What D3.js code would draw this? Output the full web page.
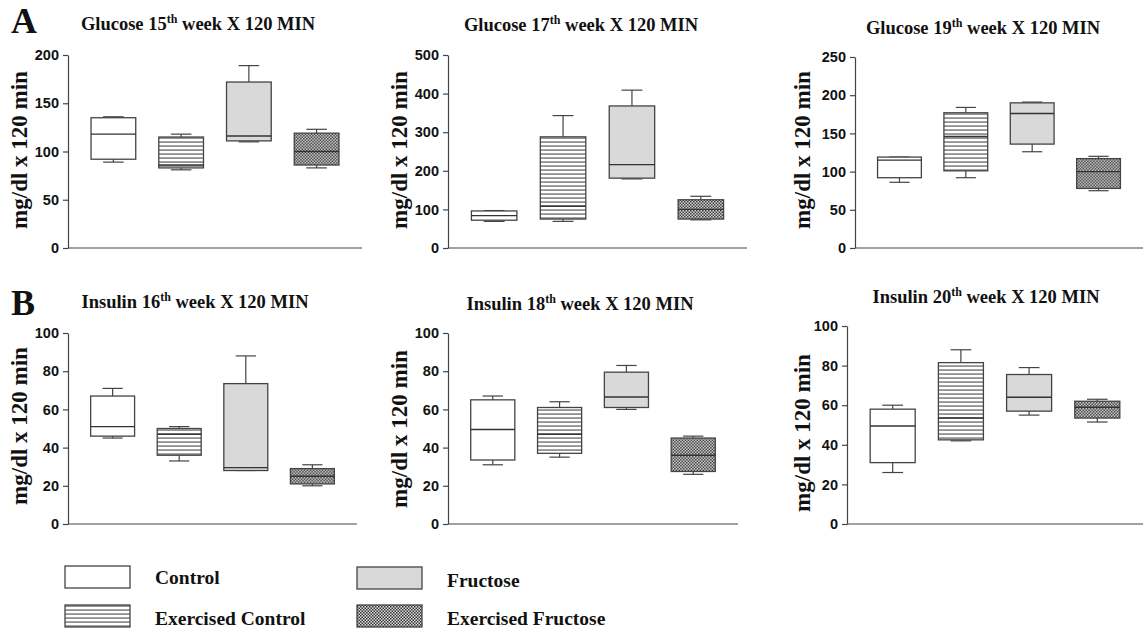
<!DOCTYPE html>
<html>
<head>
<meta charset="utf-8">
<script src="https://cdn.jsdelivr.net/npm/d3@7"></script>
<style>
    body { margin: 0; background: #fff; }
    svg { display: block; }
    .serif { font-family: 'Liberation Serif', 'Times New Roman', serif; font-weight: bold; fill: #111; }
</style>
</head>
<body>
<svg id="chart" width="1147" height="632"></svg>
<script>
// groups, same order in every panel
const groups = ['Control', 'Exercised Control', 'Fructose', 'Exercised Fructose']

// every box: [min, q1, median, q3, max]
const glucose15 = [[89, 92, 118, 135, 136], [81, 83, 86, 115, 118], [110, 111, 116, 172, 189], [83, 86, 100, 119, 123]]
const glucose17 = [[69, 72, 84, 96, 97], [69, 75, 108, 288, 343], [179, 181, 216, 368, 409], [73, 75, 100, 125, 134]]
const glucose19 = [[86, 92, 115, 119, 119], [92, 101, 146, 177, 184], [126, 136, 176, 190, 191], [75, 78, 100, 117, 120]]
const insulin16 = [[45, 46, 51, 67, 71], [33, 36, 47, 50, 51], [28, 28, 29.5, 73.5, 88], [20, 21, 25, 29, 31]]
const insulin18 = [[31, 33.5, 49.5, 65, 67], [35, 37, 47, 61, 64], [60, 61, 66.5, 79.5, 83], [26, 27.5, 36, 45, 46]]
const insulin20 = [[26, 31, 49.5, 58, 60], [42, 42.5, 53.5, 81.5, 88], [55, 57, 64, 75.5, 79], [51.5, 53.5, 59, 62, 63]]

// tick labels of the y axes
const ticksGlucose15 = [0, 50, 100, 150, 200]
const ticksGlucose17 = [0, 100, 200, 300, 400, 500]
const ticksGlucose19 = [0, 50, 100, 150, 200, 250]
const ticksInsulin = [0, 20, 40, 60, 80, 100]

const titles = ['Glucose 15', 'Glucose 17', 'Glucose 19', 'Insulin 16', 'Insulin 18', 'Insulin 20']

// where the panels sit on the page
const panels = [
    { data: glucose15, ticks: ticksGlucose15, title: titles[0], x0: 68, x1: 362, y0: 248, y1: 55, tx: 198, ty: 30, lx: 27, ly: 150 },
    { data: glucose17, ticks: ticksGlucose17, title: titles[1], x0: 448, x1: 747, y0: 248, y1: 55, tx: 581, ty: 31, lx: 407, ly: 150 },
    { data: glucose19, ticks: ticksGlucose19, title: titles[2], x0: 855, x1: 1143, y0: 248, y1: 57, tx: 983, ty: 34, lx: 810, ly: 150 },
    { data: insulin16, ticks: ticksInsulin, title: titles[3], x0: 68, x1: 357, y0: 524, y1: 333, tx: 195, ty: 308, lx: 27, ly: 426 },
    { data: insulin18, ticks: ticksInsulin, title: titles[4], x0: 448, x1: 738, y0: 524, y1: 333, tx: 580, ty: 310, lx: 407, ly: 429 },
    { data: insulin20, ticks: ticksInsulin, title: titles[5], x0: 847, x1: 1143, y0: 524, y1: 326, tx: 986, ty: 303, lx: 810, ly: 433 },
]

const stroke = '#444'
const svg = d3.select('#chart')
const defs = svg.append('defs')

// 横线填充
const lines = defs.append('pattern')
    .attr('id', 'lines')
    .attr('patternUnits', 'userSpaceOnUse')
    .attr('width', 8)
    .attr('height', 4)
lines.append('rect').attr('width', 8).attr('height', 4).attr('fill', '#fff')
lines.append('rect').attr('y', 1.5).attr('width', 8).attr('height', 1.1).attr('fill', '#4a4a4a')

// 网格点填充
const checks = defs.append('pattern')
    .attr('id', 'checks')
    .attr('patternUnits', 'userSpaceOnUse')
    .attr('width', 3)
    .attr('height', 3)
checks.append('rect').attr('width', 3).attr('height', 3).attr('fill', '#ddd')
checks.append('rect').attr('width', 1.5).attr('height', 1.5).attr('fill', '#333')
checks.append('rect').attr('x', 1.5).attr('y', 1.5).attr('width', 1.5).attr('height', 1.5).attr('fill', '#333')

const fills = ['#fff', 'url(#lines)', '#d9d9d9', 'url(#checks)']

panels.forEach((p) => {
    const y = d3.scaleLinear()
        .domain([0, d3.max(p.ticks)])
        .range([p.y0, p.y1])
    const x = d3.scaleBand()
        .domain(groups)
        .range([p.x0, p.x1])
        .padding(0.34)

    const g = svg.append('g')

    // y 轴
    const axis = g.append('g')
        .attr('transform', `translate(${p.x0},0)`)
        .call(d3.axisLeft(y).tickValues(p.ticks).tickSize(5).tickPadding(4).tickSizeOuter(0))
    axis.select('.domain').attr('stroke', stroke).attr('stroke-width', 1.2)
    axis.selectAll('.tick line').attr('stroke', stroke).attr('stroke-width', 1.2)
    axis.selectAll('.tick text')
        .attr('fill', '#111')
        .style('font-family', "'Liberation Sans', Arial, sans-serif")
        .style('font-weight', 'bold')
        .style('font-size', '14.5px')

    // x 轴 (no ticks)
    g.append('line')
        .attr('x1', p.x0).attr('x2', p.x1)
        .attr('y1', p.y0).attr('y2', p.y0)
        .attr('stroke', stroke)
        .attr('stroke-width', 1.2)

    // boxes
    const bw = x.bandwidth()
    const cap = bw * 0.23
    const box = g.selectAll('.box')
        .data(p.data.map((v, i) => ({ group: groups[i], fill: fills[i], v })))
        .join('g')
        .attr('class', 'box')
        .attr('transform', d => `translate(${x(d.group)},0)`)

    box.append('line')
        .attr('x1', bw / 2)
        .attr('x2', bw / 2)
        .attr('y1', d => y(d.v[4]))
        .attr('y2', d => y(d.v[0]))
        .attr('stroke', stroke)
        .attr('stroke-width', 1.2)
    box.selectAll('.cap')
        .data(d => [d.v[0], d.v[4]])
        .join('line')
        .attr('class', 'cap')
        .attr('x1', bw / 2 - cap)
        .attr('x2', bw / 2 + cap)
        .attr('y1', d => y(d))
        .attr('y2', d => y(d))
        .attr('stroke', stroke)
        .attr('stroke-width', 1.2)
    box.append('rect')
        .attr('width', bw)
        .attr('y', d => y(d.v[3]))
        .attr('height', d => y(d.v[1]) - y(d.v[3]))
        .attr('fill', d => d.fill)
        .attr('stroke', stroke)
        .attr('stroke-width', 1.3)
    box.append('line')
        .attr('x2', bw)
        .attr('y1', d => y(d.v[2]))
        .attr('y2', d => y(d.v[2]))
        .attr('stroke', '#333')
        .attr('stroke-width', 1.4)

    // title
    const t = svg.append('text')
        .attr('class', 'serif')
        .attr('x', p.tx)
        .attr('y', p.ty)
        .attr('text-anchor', 'middle')
        .style('font-size', '18.5px')
    t.append('tspan').text(p.title)
    t.append('tspan').attr('dy', -7).style('font-size', '12px').text('th')
    t.append('tspan').attr('dy', 7).text(' week X 120 MIN')

    // y label
    svg.append('text')
        .attr('class', 'serif')
        .attr('transform', `translate(${p.lx},${p.ly}) rotate(-90)`)
        .attr('text-anchor', 'middle')
        .style('font-size', '23px')
        .text('mg/dl x 120 min')
})

// panel letters
svg.append('text').attr('class', 'serif').attr('x', 11).attr('y', 33).style('font-size', '36px').text('A')
svg.append('text').attr('class', 'serif').attr('x', 11).attr('y', 315).style('font-size', '36px').text('B')

// legend
const legendPos = [[65, 566, 155, 584], [65, 605, 155, 625], [357, 567, 447, 587], [357, 605, 447, 625]]
const legend = svg.append('g')
    .selectAll('g')
    .data(groups)
    .join('g')
legend.append('rect')
    .attr('x', (d, i) => legendPos[i][0])
    .attr('y', (d, i) => legendPos[i][1])
    .attr('width', 65)
    .attr('height', 22)
    .attr('fill', (d, i) => fills[i])
    .attr('stroke', stroke)
    .attr('stroke-width', 1.3)
legend.append('text')
    .attr('class', 'serif')
    .attr('x', (d, i) => legendPos[i][2])
    .attr('y', (d, i) => legendPos[i][3])
    .style('font-size', '19.5px')
    .text(d => d)
</script>
</body>
</html>
